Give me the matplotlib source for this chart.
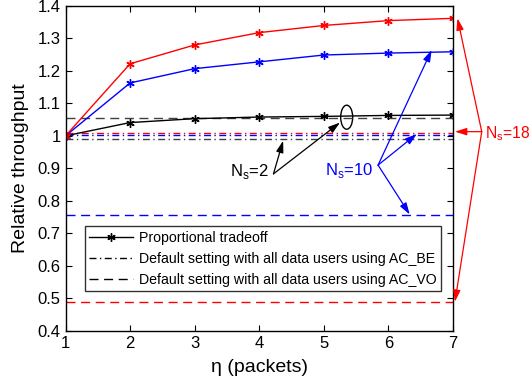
import numpy as np
import matplotlib
matplotlib.use('Agg')
import matplotlib.pyplot as plt
from matplotlib.patches import Ellipse

plt.rcParams['font.family'] = ['Liberation Sans', 'DejaVu Sans']
plt.rcParams['mathtext.fontset'] = 'custom'
plt.rcParams['mathtext.rm'] = 'Liberation Sans'

eta = [1, 2, 3, 4, 5, 6, 7]

# proportional tradeoff, one curve per number of stations
prop_ns2 = [1.0, 1.041, 1.053, 1.058, 1.060, 1.063, 1.064]
prop_ns10 = [1.0, 1.163, 1.207, 1.228, 1.249, 1.255, 1.259]
prop_ns18 = [1.0, 1.222, 1.280, 1.318, 1.340, 1.355, 1.362]

# default settings (flat lines)
be_ns2, be_ns10, be_ns18 = 0.990, 1.003, 1.010
vo_ns2, vo_ns10, vo_ns18 = 1.054, 0.756, 0.487

ast = (6, 2, 0)
dash = (0, (6.5, 4))
dashdot = (0, (5, 2.5, 1, 2.5))

fig = plt.figure(figsize=(5.3, 3.84), dpi=100)
ax = fig.add_axes([0.1236, 0.1388, 0.7311, 0.8456])

# flat reference lines
for v, c in [(be_ns18, 'red'), (be_ns10, 'blue'), (be_ns2, '#404040')]:
    ax.plot([1, 7], [v, v], color=c, lw=1.0, linestyle=dashdot)
for v, c in [(vo_ns2, '#404040'), (vo_ns10, 'blue'), (vo_ns18, 'red')]:
    ax.plot([1, 7], [v, v], color=c, lw=1.0, linestyle=dash)

ax.plot(eta, prop_ns2, color='black', lw=1.0, marker=ast, ms=6, mew=1.0)
ax.plot(eta, prop_ns10, color='blue', lw=1.0, marker=ast, ms=6, mew=1.0)
ax.plot(eta, prop_ns18, color='red', lw=1.0, marker=ast, ms=6, mew=1.0)

ax.set_xlim(1, 7)
ax.set_ylim(0.4, 1.4)
ax.set_xticks(eta)
ax.set_yticks(np.arange(0.4, 1.41, 0.1))
ax.set_yticklabels(['0.4', '0.5', '0.6', '0.7', '0.8', '0.9', '1',
                    '1.1', '1.2', '1.3', '1.4'])
ax.tick_params(direction='in', length=4, labelsize=12, top=True, right=True,
               width=0.8)
for s in ax.spines.values():
    s.set_linewidth(1.0)
ax.set_xlabel('η (packets)', fontsize=14, labelpad=6)
ax.set_ylabel('Relative throughput', fontsize=14, labelpad=6)

# legend with black handles
h1, = ax.plot([], [], color='black', lw=1.0, marker=ast, ms=6)
h2, = ax.plot([], [], color='black', lw=1.0, linestyle=dashdot)
h3, = ax.plot([], [], color='black', lw=1.0, linestyle=dash)
leg = ax.legend([h1, h2, h3],
                ['Proportional tradeoff',
                 'Default setting with all data users using AC_BE',
                 'Default setting with all data users using AC_VO'],
                loc='lower left', bbox_to_anchor=(0.05, 0.122), fontsize=10.2,
                frameon=True, fancybox=False, edgecolor='black',
                borderpad=0.3, labelspacing=0.5, handlelength=3.1,
                handletextpad=0.4, borderaxespad=0)
leg.get_frame().set_linewidth(1.0)

arrow = dict(arrowstyle='-|>,head_length=0.7,head_width=0.22', lw=0.9,
             shrinkA=0, shrinkB=0)

# N_s = 2
ax.text(3.84, 0.889, r'N$_\mathregular{s}$=2', fontsize=12, color='black',
        ha='center', va='center')
for end in [(4.37, 0.985), (5.25, 1.041)]:
    ax.annotate('', xy=end, xytext=(4.22, 0.883),
                arrowprops=dict(arrow, color='black'), annotation_clip=False)
ax.add_patch(Ellipse((5.354, 1.0575), 0.186, 0.074, fill=False,
                     edgecolor='black', lw=1.0))

# N_s = 10
ax.text(5.39, 0.892, r'N$_\mathregular{s}$=10', fontsize=12, color='blue',
        ha='center', va='center')
for end in [(6.67, 1.2645), (6.44, 1.006), (6.33, 0.758)]:
    ax.annotate('', xy=end, xytext=(5.84, 0.910),
                arrowprops=dict(arrow, color='blue'), annotation_clip=False)

# N_s = 18
ax.text(7.50, 1.008, r'N$_\mathregular{s}$=18', fontsize=11.3, color='red',
        ha='left', va='center', clip_on=False)
for end in [(7.03, 1.013), (7.07, 1.362), (7.03, 0.489)]:
    ax.annotate('', xy=end, xytext=(7.445, 1.013),
                arrowprops=dict(arrow, color='red'), annotation_clip=False)

fig.savefig('out.png', dpi=100)
